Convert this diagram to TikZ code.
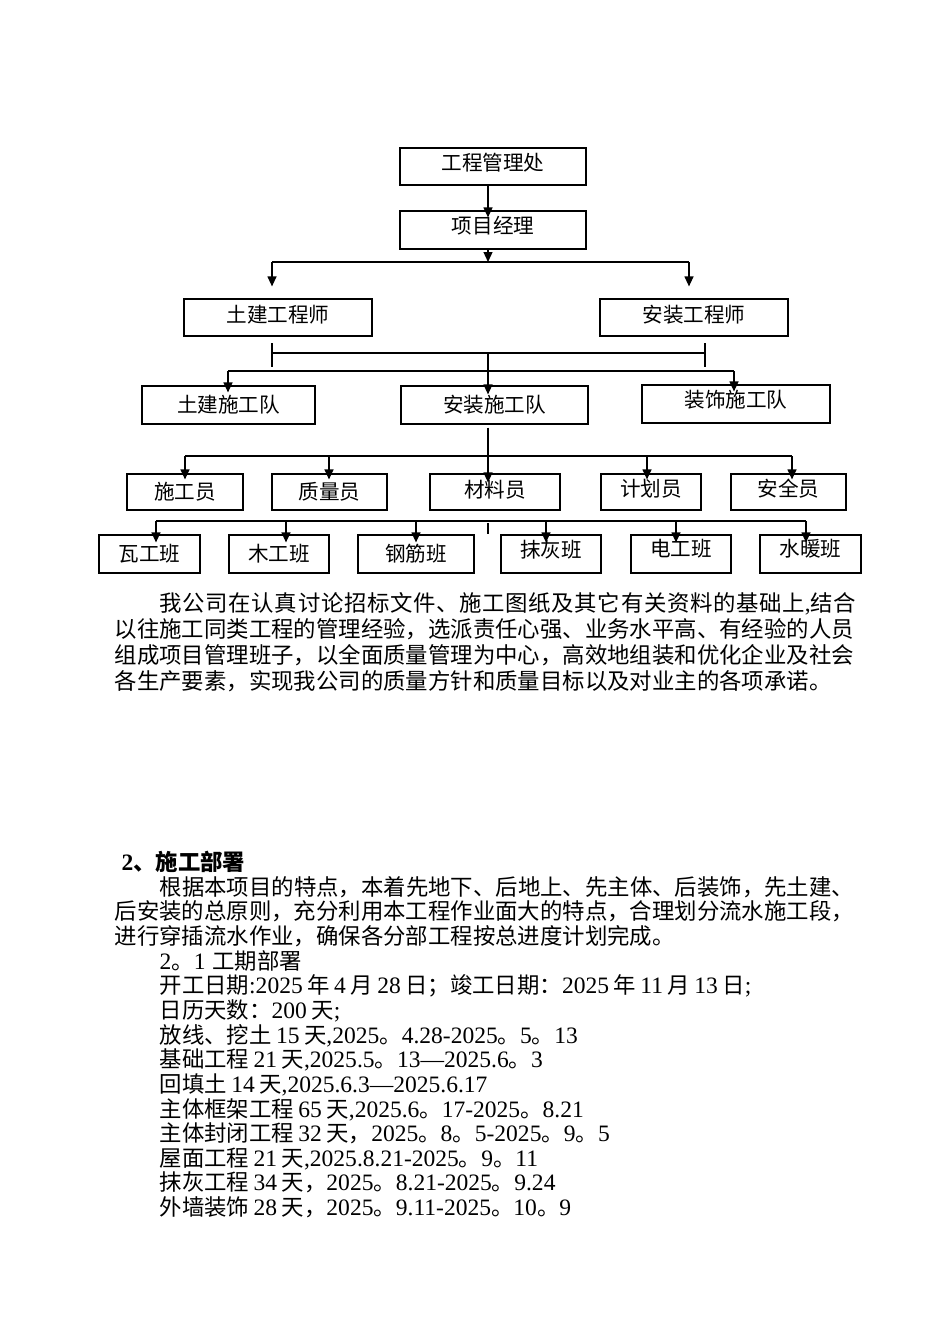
\documentclass[tikz,border=0pt]{standalone}
\usepackage{fontspec}
\setmainfont{Liberation Serif}[Scale=1.05]
\newfontfamily\cjk{Noto Sans CJK SC}
\newfontfamily\cjkwide{Noto Sans CJK SC}[LetterSpace=3.0]
\usetikzlibrary{arrows.meta}
\newcommand\dg[1]{\hspace{0.2em}{\rmfamily#1}\hspace{0.2em}}
\newcommand\lt[1]{{\rmfamily#1}}
\tikzset{
  every picture/.style={line width=0.6pt},
  box/.style={draw, font=\cjk\fontsize{10.3}{12}\selectfont, inner sep=1pt,
    minimum height=19pt, text height=9pt, text depth=1.2pt},
  lift/.style={text depth=#1},
  lift/.default=5.2pt,
  arrow/.style={-{Triangle[length=5pt,width=4.5pt]}},
  txt/.style={anchor=base west, inner sep=0pt, font=\cjk\fontsize{11.2}{13}\selectfont},
}

\begin{document}
\begin{tikzpicture}[x=0.5pt, y=-0.5pt]
  \useasboundingbox (0,0) rectangle (950,1344);
  % management
  \node[box, minimum width=93pt, minimum height=18.5pt, lift] (gcglc) at (493,166.5) {工程管理处};
  \node[box, minimum width=93pt, lift=5.7pt] (xmjl) at (493,230) {项目经理};
  \node[box, minimum width=94pt, minimum height=18.5pt, lift=3.7pt] (tjgcs) at (278,317.5) {土建工程师};
  \node[box, minimum width=94pt, minimum height=18.5pt, lift=3.7pt] (azgcs) at (694,317.5) {安装工程师};
  % teams
  \node[box, minimum width=86.5pt] (tjsgd) at (228.5,405) {土建施工队};
  \node[box, minimum width=93.5pt] (azsgd) at (494.5,405) {安装施工队};
  \node[box, minimum width=94pt, lift] (zssgd) at (736,404) {装饰施工队};
  % staff
  \node[box, minimum width=58pt, minimum height=18pt] (sgy) at (185,492) {施工员};
  \node[box, minimum width=57.5pt, minimum height=18pt] (zly) at (329.5,492) {质量员};
  \node[box, minimum width=65pt, minimum height=18pt, lift=3.7pt] (cly) at (495,492) {材料员};
  \node[box, minimum width=50pt, minimum height=18pt, lift=4.7pt] (jhy) at (651,492) {计划员};
  \node[box, minimum width=57.5pt, minimum height=18pt, lift=4.2pt] (aqy) at (788.5,492) {安全员};
  % crews
  \node[box, minimum width=50.5pt] (wgb) at (149.5,554) {瓦工班};
  \node[box, minimum width=50pt] (mgb) at (279,554) {木工班};
  \node[box, minimum width=58pt] (gjb) at (416,554) {钢筋班};
  \node[box, minimum width=50pt, lift=5.7pt] (mhb) at (551,554) {抹灰班};
  \node[box, minimum width=50pt, lift=6.7pt] (dgb) at (681,554) {电工班};
  \node[box, minimum width=50.5pt, lift=6.2pt] (snb) at (810.5,554) {水暖班};

  % connectors
  \coordinate (bus1) at (488,262);
  \coordinate (bus1l) at (272,262);
  \coordinate (bus1r) at (689,262);
  \draw[arrow, shorten >=-3.5pt] (gcglc.south -| bus1) -- (xmjl.north -| bus1);
  \draw[arrow] (xmjl.south -| bus1) -- (bus1);
  \draw (bus1l) -- (bus1r);
  \foreach \c/\n in {bus1l/tjgcs, bus1r/azgcs}
    \draw[arrow, shorten >=6pt] (\c) -- (\c |- \n.north);

  \coordinate (hl) at (272,353);
  \coordinate (hr) at (705,353);
  \coordinate (hc) at (488,353);
  \draw (hl) -- (hr);
  \draw ([yshift=5pt]hl) -- ([yshift=-7pt]hl);
  \draw ([yshift=5pt]hr) -- ([yshift=-7pt]hr);
  \draw[arrow, shorten >=-4.5pt] (hc) -- (hc |- azsgd.north);
  \coordinate (bus2l) at (228,371);
  \coordinate (bus2r) at (734,371);
  \draw (bus2l) -- (bus2r);
  \foreach \c/\n in {bus2l/tjsgd, bus2r/zssgd}
    \draw[arrow, shorten >=-3.5pt] (\c) -- (\c |- \n.north);

  \draw[arrow, shorten <=1.5pt, shorten >=-4.5pt] (azsgd.south -| hc) -- (cly.north -| hc);
  \foreach \n/\x in {sgy/185, zly/329, jhy/647, aqy/792} {
    \coordinate (t\n) at (\x,456);
    \draw[arrow, shorten >=-3pt] (t\n) -- (t\n |- \n.north);
  }
  \draw (tsgy) -- (taqy);

  \foreach \n/\x in {wgb/156, mgb/286, gjb/416, mhb/546, dgb/676, snb/806} {
    \coordinate (t\n) at (\x,521);
    \draw[arrow, shorten >=-4pt] (t\n) -- (t\n |- \n.north);
  }
  \draw (twgb) -- (tsnb);
  \coordinate (tk) at (488,523);
  \draw (tk) -- (tk |- gjb.north);

  % text
  \node[txt] (p1) at (159,611.6) {\cjkwide 我公司在认真讨论招标文件、施工图纸及其它有关资料的基础上\lt{,}结合};
  \node[txt] (p2) at (114,637.4) {以往施工同类工程的管理经验，选派责任心强、业务水平高、有经验的人员};
  \node[txt] (p3) at (114,663.2) {组成项目管理班子，以全面质量管理为中心，高效地组装和优化企业及社会};
  \node[txt] (p4) at (114,689) {各生产要素，实现我公司的质量方针和质量目标以及对业主的各项承诺。};

  \node[txt, font=\cjk\bfseries\fontsize{11.2}{13}\selectfont] (hd) at (121,870.6) {\lt{2}、施工部署};
  \node[txt] (s1) at (159,895.2) {根据本项目的特点，本着先地下、后地上、先主体、后装饰，先土建、};
  \node[txt] (s2) at (114,919.9) {后安装的总原则，充分利用本工程作业面大的特点，合理划分流水施工段，};
  \node[txt] (s3) at (114,944.5) {进行穿插流水作业，确保各分部工程按总进度计划完成。};
  \node[txt] (s4) at (159,969.2) {\lt{2}。\lt{1}\hspace{0.3em}工期部署};
  \node[txt] (s5) at (159,993.8) {开工日期\lt{:2025}\hspace{0.2em}年\dg{4}月\dg{28}日；竣工日期：\lt{2025}\hspace{0.2em}年\dg{11}月\dg{13}日\lt{;}};
  \node[txt] (s6) at (159,1018.4) {日历天数：\lt{200}\hspace{0.2em}天\lt{;}};
  \node[txt] (s7) at (159,1043.1) {放线、挖土\dg{15}天\lt{,2025}。\lt{4.28-2025}。\lt{5}。\lt{13}};
  \node[txt] (s8) at (159,1067.7) {基础工程\dg{21}天\lt{,2025.5}。\lt{13—2025.6}。\lt{3}};
  \node[txt] (s9) at (159,1092.4) {回填土\dg{14}天\lt{,2025.6.3—2025.6.17}};
  \node[txt] (s10) at (159,1117) {主体框架工程\dg{65}天\lt{,2025.6}。\lt{17-2025}。\lt{8.21}};
  \node[txt] (s11) at (159,1141.6) {主体封闭工程\dg{32}天，\lt{2025}。\lt{8}。\lt{5-2025}。\lt{9}。\lt{5}};
  \node[txt] (s12) at (159,1166.3) {屋面工程\dg{21}天\lt{,2025.8.21-2025}。\lt{9}。\lt{11}};
  \node[txt] (s13) at (159,1190.9) {抹灰工程\dg{34}天，\lt{2025}。\lt{8.21-2025}。\lt{9.24}};
  \node[txt] (s14) at (159,1215.6) {外墙装饰\dg{28}天，\lt{2025}。\lt{9.11-2025}。\lt{10}。\lt{9}};
\end{tikzpicture}
\end{document}
